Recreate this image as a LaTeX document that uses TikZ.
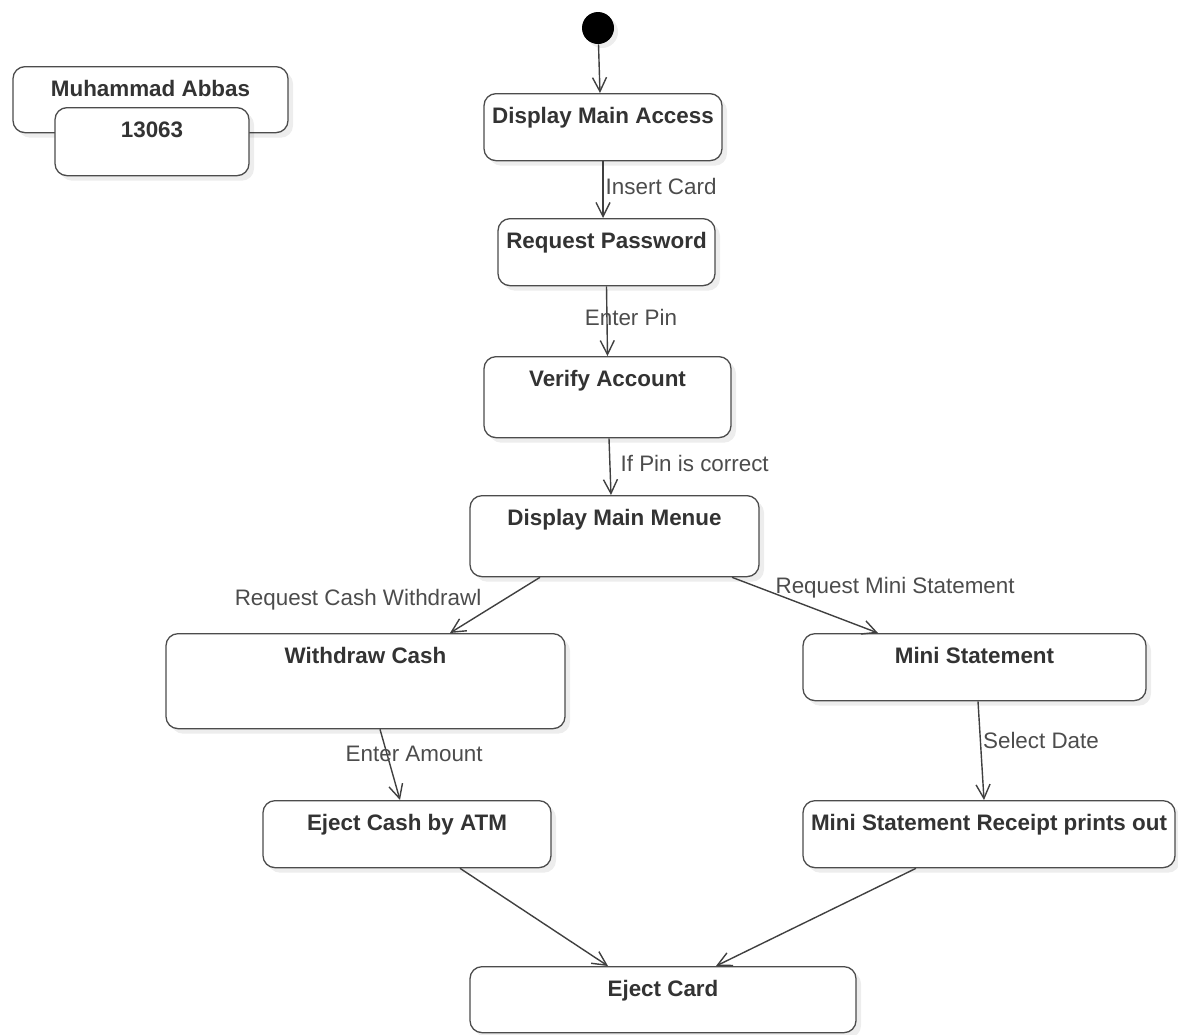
\documentclass[tikz,border=0pt]{standalone}
\usepackage{fontspec}
\setmainfont{Liberation Sans}
\usetikzlibrary{arrows.meta,shadows}
\begin{document}
\begin{tikzpicture}
            [x=0.5pt,y=-0.5pt,
            act/.style ={draw=black!70,line width=0.65pt,rounded corners=6pt,fill=white,
              drop shadow={shadow xshift=2.5pt,shadow yshift=-2.5pt,fill=black,opacity=.07},
              anchor=north,inner xsep=0pt,inner ysep=0pt,text height=15pt,text depth=#1,
              font=\fontsize{11.2}{13}\selectfont\bfseries,text=black!80},
            act/.default=18.5pt,
            flow/.style ={draw=black!75,line width=0.7pt,-{Straight Barb[length=7pt,width=7pt]}},
            lbl/.style ={font=\fontsize{11.2}{13}\selectfont,text=black!70,inner sep=1pt}]
            \useasboundingbox (0,0) rectangle (1178,1034);
            \node[act=18pt,minimum width=137.5pt] (name) at (150.5,66) {Muhammad Abbas};
            \node[act=19pt,minimum width=97pt] (id) at (152,107) {13063};
            \node[circle,fill=black,minimum size=16pt,inner sep=0pt,
              drop shadow={shadow xshift=2pt,shadow yshift=-2pt,fill=black,opacity=.07}] (start) at (598,28) {};
            \node[act,minimum width=119pt] (access) at (603,93) {Display Main Access};
            \node[act,minimum width=108.5pt] (pass) at (606.5,218) {Request Password};
            \node[act=25.5pt,minimum width=123.5pt] (verify) at (607.5,356) {Verify Account};
            \node[act=25.5pt,minimum width=144.5pt] (menu) at (614.5,495) {Display Main Menue};
            \node[act=32.5pt,minimum width=199.5pt] (cash) at (365.5,633) {Withdraw Cash};
            \node[act,minimum width=171.5pt] (mini) at (974.5,633) {Mini Statement};
            \node[act,minimum width=144pt] (eject) at (407,800) {Eject Cash by ATM};
            \node[act,minimum width=186pt] (receipt) at (989,800) {Mini Statement Receipt prints out};
            \node[act=18pt,minimum width=193pt] (card) at (663,966) {Eject Card};
            \draw[flow] (start) -- ([xshift=-1.5pt]access.north);
            \draw[flow] (access.south) -- node[lbl,right,pos=.45]{Insert Card} ([xshift=-1.75pt]pass.north);
            \draw[flow] (pass.south) -- node[lbl,pos=.45,xshift=12pt]{Enter Pin} (verify.north);
            \draw[flow] ([xshift=.75pt]verify.south) -- node[lbl,right,pos=.45,xshift=4pt]{If Pin is correct} ([xshift=-1.75pt]menu.north);
            \draw[flow] ([xshift=-37.25pt]menu.south) -- node[lbl,pos=.4,anchor=east,xshift=-10pt]{Request Cash Withdrawl} ([xshift=42.25pt]cash.north);
            \draw[flow] ([xshift=58.75pt]menu.south) -- node[lbl,pos=.28,anchor=west,yshift=2.5pt]{Request Mini Statement} ([xshift=-48.25pt]mini.north);
            \draw[flow] ([xshift=7.25pt]cash.south) -- node[lbl,pos=.35,anchor=west,xshift=-22pt]{Enter Amount} ([xshift=-3.5pt]eject.north);
            \draw[flow] ([xshift=1.75pt]mini.south) -- node[lbl,right,pos=.4]{Select Date} ([xshift=-2.5pt]receipt.north);
            \draw[flow] ([xshift=26.5pt]eject.south) -- ([xshift=-27.5pt]card.north);
            \draw[flow] ([xshift=-36.5pt]receipt.south) -- ([xshift=26.5pt]card.north);
        \end{tikzpicture}
\end{document}
